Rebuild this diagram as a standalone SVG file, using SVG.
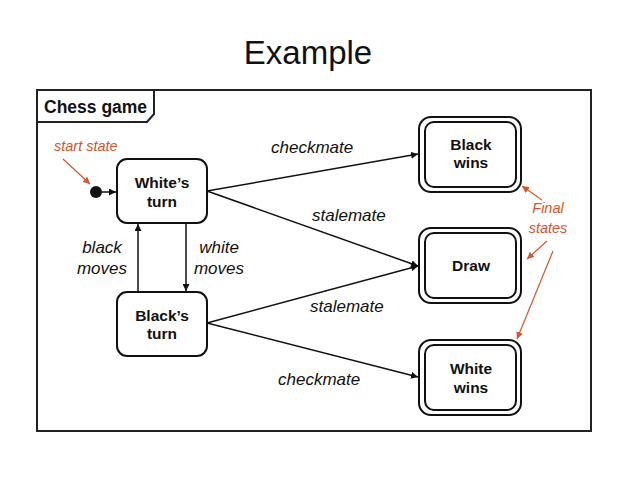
<svg xmlns="http://www.w3.org/2000/svg" width="638" height="479" viewBox="0 0 638 479">
<defs>
<style>
.frame{fill:none;stroke:#222;stroke-width:2}
.st{fill:#fff;stroke:#111;stroke-width:2}
.lbl{font-family:"Liberation Sans",Arial,sans-serif;font-weight:bold;font-size:15.5px;fill:#111;text-anchor:middle}
.ed{font-family:"Liberation Sans",Arial,sans-serif;font-style:italic;font-size:17px;fill:#111}
.note{font-family:"Liberation Sans",Arial,sans-serif;font-style:italic;font-size:14.5px;fill:#d9542b}
.conn{fill:none;stroke:#111;stroke-width:1.5}
.red{fill:none;stroke:#d9542b;stroke-width:1.2}
</style>
<marker id="ah" viewBox="0 0 10 10" refX="10" refY="5" markerWidth="7" markerHeight="7" markerUnits="userSpaceOnUse" orient="auto"><path d="M0,0 L10,5 L0,10 z" fill="#111"/></marker>
<marker id="ahr" viewBox="0 0 10 10" refX="10" refY="5" markerWidth="7" markerHeight="7" markerUnits="userSpaceOnUse" orient="auto"><path d="M0,0 L10,5 L0,10 z" fill="#d9542b"/></marker>
</defs>
<rect width="638" height="479" fill="#fff"/>
<text x="308" y="64" font-family="Liberation Sans,Arial,sans-serif" font-size="33" text-anchor="middle" fill="#111">Example</text>
<g id="frame">
<rect class="frame" x="37" y="90" width="554" height="341"/>
<path class="frame" d="M37,122 H147 L154,114 V90"/>
<text x="44" y="113" font-family="Liberation Sans,Arial,sans-serif" font-weight="bold" font-size="17.5" fill="#111">Chess game</text>
</g>
<g id="connectors">
<line class="conn" x1="102" y1="192" x2="116" y2="192" marker-end="url(#ah)"/>
<line class="conn" x1="138" y1="292" x2="138" y2="224" marker-end="url(#ah)"/>
<line class="conn" x1="186" y1="223" x2="186" y2="291" marker-end="url(#ah)"/>
<line class="conn" x1="207" y1="191" x2="418" y2="154" marker-end="url(#ah)"/>
<line class="conn" x1="207" y1="191" x2="418" y2="266" marker-end="url(#ah)"/>
<line class="conn" x1="207" y1="323" x2="418" y2="266" marker-end="url(#ah)"/>
<line class="conn" x1="207" y1="323" x2="418" y2="377" marker-end="url(#ah)"/>
<text class="ed" x="271" y="153">checkmate</text>
<text class="ed" x="312" y="221">stalemate</text>
<text class="ed" x="310" y="312">stalemate</text>
<text class="ed" x="278" y="385">checkmate</text>
<text class="ed" x="102" y="253" text-anchor="middle">black</text>
<text class="ed" x="102" y="274" text-anchor="middle">moves</text>
<text class="ed" x="219" y="253" text-anchor="middle">white</text>
<text class="ed" x="219" y="274" text-anchor="middle">moves</text>
</g>
<g id="start">
<circle cx="96" cy="192" r="6" fill="#111"/>
</g>
<g id="whites-turn">
<rect class="st" x="117" y="159" width="90" height="64" rx="10"/>
<text class="lbl" x="162" y="188">White’s</text>
<text class="lbl" x="162" y="207">turn</text>
</g>
<g id="blacks-turn">
<rect class="st" x="117" y="292" width="90" height="64" rx="10"/>
<text class="lbl" x="162" y="321">Black’s</text>
<text class="lbl" x="162" y="339">turn</text>
</g>
<g id="black-wins">
<rect class="st" x="419" y="117" width="102" height="75" rx="12"/>
<rect class="st" x="425" y="122" width="91" height="65" rx="9"/>
<text class="lbl" x="471" y="150">Black</text>
<text class="lbl" x="471" y="168">wins</text>
</g>
<g id="draw">
<rect class="st" x="419" y="228" width="102" height="75" rx="12"/>
<rect class="st" x="425" y="233" width="91" height="65" rx="9"/>
<text class="lbl" x="471" y="271">Draw</text>
</g>
<g id="white-wins">
<rect class="st" x="419" y="340" width="102" height="75" rx="12"/>
<rect class="st" x="425" y="345" width="91" height="65" rx="9"/>
<text class="lbl" x="471" y="374">White</text>
<text class="lbl" x="471" y="393">wins</text>
</g>
<g id="annotations">
<text class="note" x="54" y="151">start state</text>
<line class="red" x1="63" y1="159" x2="90" y2="184" marker-end="url(#ahr)"/>
<text class="note" x="548" y="213" text-anchor="middle">Final</text>
<text class="note" x="548" y="233" text-anchor="middle">states</text>
<line class="red" x1="542" y1="200" x2="522" y2="186" marker-end="url(#ahr)"/>
<line class="red" x1="547" y1="241" x2="527" y2="259" marker-end="url(#ahr)"/>
<line class="red" x1="553" y1="251" x2="517" y2="339" marker-end="url(#ahr)"/>
</g>
</svg>
